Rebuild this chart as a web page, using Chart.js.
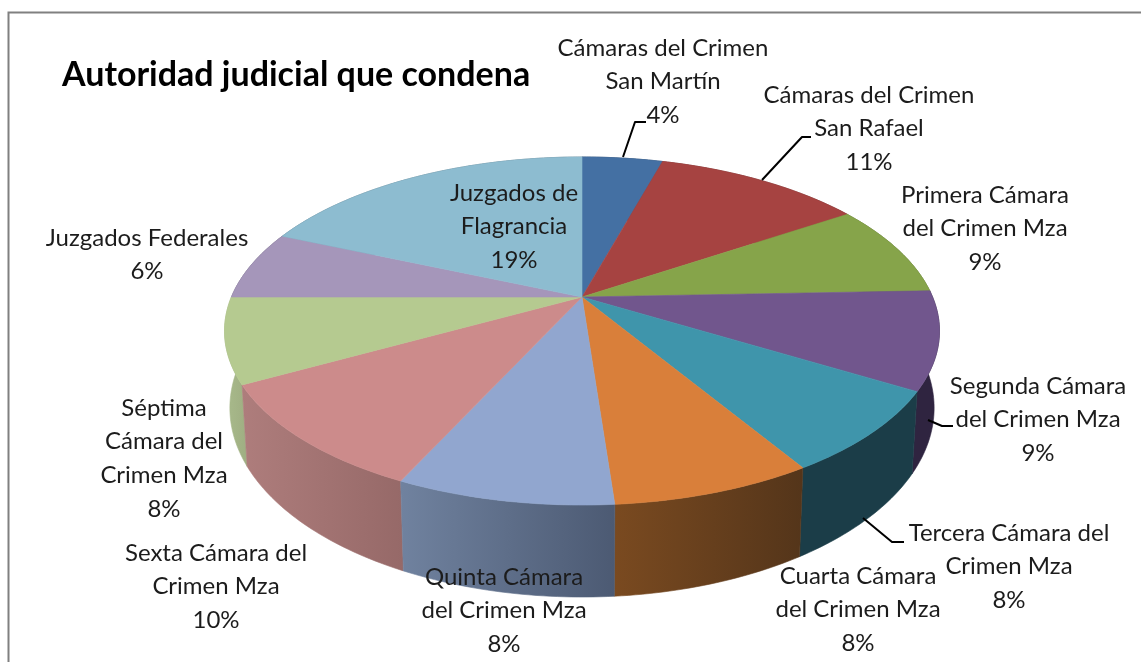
<!DOCTYPE html>
<html><head><meta charset="utf-8">
<style>html,body{margin:0;padding:0;background:#fff;overflow:hidden}canvas{display:block}</style>
<script src="https://cdn.jsdelivr.net/npm/chart.js@4/dist/chart.umd.js"></script>
</head><body>
<canvas id="c" width="1141" height="662"></canvas>
<script>
const chartTitle = 'Autoridad judicial que condena';
const categories = [
  ['Cámaras del Crimen','San Martín'],
  ['Cámaras del Crimen','San Rafael'],
  ['Primera Cámara','del Crimen Mza'],
  ['Segunda Cámara','del Crimen Mza'],
  ['Tercera Cámara del','Crimen Mza'],
  ['Cuarta Cámara','del Crimen Mza'],
  ['Quinta Cámara','del Crimen Mza'],
  ['Sexta Cámara del','Crimen Mza'],
  ['Séptima','Cámara del','Crimen Mza'],
  ['Juzgados Federales'],
  ['Juzgados de','Flagrancia']
];
const values = [4.4, 11.4, 8.6, 9.1, 7.7, 7.6, 8.2, 10.1, 7.9, 6.4, 18.6];
const topColors = ['#4470a3','#a64341','#86a44a','#71568d','#3f95ab','#d97f3a','#91a6cf','#cc8b8b','#b5ca90','#a596ba','#8dbcd0'];
const wallLeft  = ['#2a4566','#682a29','#54672f','#2f2440','#1b3d48','#7a4a20','#70829f','#ae7d7c','#a9bb8c','#675d75','#587582'];
const wallRight = ['#2a4566','#682a29','#54672f','#2f2440','#1b3d48','#54351a','#4c5a73','#966968','#9fae82','#675d75','#587582'];
const labelCenters = [[663,48],[869,95],[985,195],[1038,386],[1009,533],[858,576],[504,577],[216,553],[164,408],[147,238],[514,193]];
const leaderLines = [
  [[623,157],[635,122],[646,122]],
  [[762,180],[802,137],[811,137]],
  [[928,420],[942,426],[953,426]],
  [[863,518],[892,542],[904,542]]
];

// perspective model of the flat disc
const CX=582, CY=297, A=350.6, B=167.4, K=0.1954, DEPTH=74, SHRINK=0.985;
function topPt(t){const u=Math.sin(t),v=Math.cos(t),w=1+K*v;return [CX+A*u/w, CY-B*v/w];}
function botPt(t){const p=topPt(t),w=1+K*Math.cos(t);return [CX+(p[0]-CX)*SHRINK, p[1]+DEPTH/w];}
function theta(a){return a+Math.PI/2;}

// Arc elements draw themselves on the projected disc
Chart.ArcElement.prototype.draw = function(ctx){
  const a0=theta(this.startAngle), a1=theta(this.endAngle);
  ctx.save();
  ctx.beginPath();
  ctx.moveTo(CX,CY);
  const n=Math.max(4,Math.ceil((a1-a0)*60));
  for(let i=0;i<=n;i++){const p=topPt(a0+(a1-a0)*i/n);ctx.lineTo(p[0],p[1]);}
  ctx.closePath();
  ctx.fillStyle=this.options.backgroundColor;
  ctx.strokeStyle=this.options.backgroundColor;
  ctx.lineWidth=0.6;
  ctx.fill();ctx.stroke();
  ctx.restore();
};

const depthPlugin={id:'depth',beforeDatasetsDraw(chart){
  const ctx=chart.ctx, arcs=chart.getDatasetMeta(0).data.map((el,i)=>({el,i}));
  // back-most first
  arcs.sort((p,q)=>Math.cos(theta((q.el.startAngle+q.el.endAngle)/2))-Math.cos(theta((p.el.startAngle+p.el.endAngle)/2)));
  for(const {el,i} of arcs){
    const a0=theta(el.startAngle), a1=theta(el.endAngle);
    const n=Math.max(4,Math.ceil((a1-a0)*60)), pts=[], low=[];
    for(let j=0;j<=n;j++){const t=a0+(a1-a0)*j/n;pts.push(topPt(t));low.push(botPt(t));}
    const all=pts.concat(low.slice().reverse());
    const xs=all.map(p=>p[0]);
    const g=ctx.createLinearGradient(Math.min(...xs),0,Math.max(...xs),0);
    g.addColorStop(0,wallLeft[i]);g.addColorStop(1,wallRight[i]);
    ctx.beginPath();
    all.forEach((p,j)=>j?ctx.lineTo(p[0],p[1]):ctx.moveTo(p[0],p[1]));
    ctx.closePath();
    ctx.fillStyle=g;ctx.strokeStyle=g;ctx.lineWidth=0.6;
    ctx.fill();ctx.stroke();
  }
}};

const textPlugin={id:'texts',afterDraw(chart){
  const ctx=chart.ctx;
  ctx.save();
  ctx.strokeStyle='#808080';ctx.lineWidth=2;
  ctx.beginPath();ctx.moveTo(8.5,662);ctx.lineTo(8.5,12.5);ctx.lineTo(1141,12.5);ctx.stroke();
  ctx.strokeStyle='#000';ctx.lineWidth=2;ctx.lineJoin='round';
  leaderLines.forEach(l=>{ctx.beginPath();l.forEach((p,j)=>j?ctx.lineTo(p[0],p[1]):ctx.moveTo(p[0],p[1]));ctx.stroke();});
  ctx.textBaseline='middle';
  ctx.textAlign='left';ctx.fillStyle='#000';
  ctx.font='bold 34px Lato';
  ctx.fillText(chartTitle,62,75);
  ctx.textAlign='center';ctx.fillStyle='#1c1c1c';
  ctx.font='24px Lato';
  const total=values.reduce((a,b)=>a+b,0);
  categories.forEach((lines,i)=>{
    const all=lines.concat(Math.round(values[i]/total*100)+'%');
    all.forEach((s,j)=>ctx.fillText(s,labelCenters[i][0],labelCenters[i][1]+j*33.7));
  });
  ctx.restore();
}};

new Chart(document.getElementById('c'),{
  type:'pie',
  data:{labels:categories.map(l=>l.join(' ')),datasets:[{data:values,backgroundColor:topColors,borderWidth:0}]},
  options:{responsive:false,animation:false,events:[],layout:{padding:0},
    plugins:{legend:{display:false},title:{display:false},tooltip:{enabled:false}}},
  plugins:[depthPlugin,textPlugin]
});
</script>
</body></html>
